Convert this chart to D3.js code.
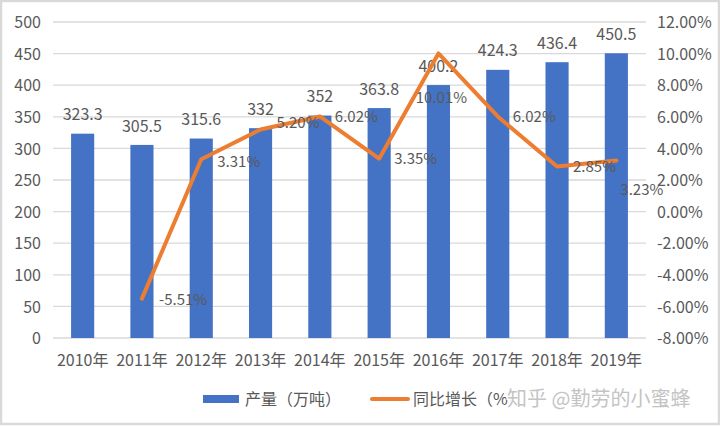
<!DOCTYPE html>
<html><head><meta charset="utf-8">
<script src="https://cdn.jsdelivr.net/npm/d3@7"></script>
<style>
html,body{margin:0;padding:0;background:#fff;}
svg text{font-family:"Noto Sans CJK SC","Noto Sans",sans-serif;}
</style></head>
<body>
<svg id="chart" width="720" height="426"></svg>
<script>
const categories = ["2010年","2011年","2012年","2013年","2014年","2015年","2016年","2017年","2018年","2019年"];
const output = [323.3,305.5,315.6,332,352,363.8,400.2,424.3,436.4,450.5];
const growth = [null,-5.51,3.31,5.20,6.02,3.35,10.01,6.02,2.85,3.23];
const leftTicks = [0,50,100,150,200,250,300,350,400,450,500];
const rightTicks = [-8,-6,-4,-2,0,2,4,6,8,10,12];
const seriesNames = ["产量（万吨）","同比增长（%）"];
const watermark = "知乎 @勤劳的小蜜蜂";

// layout: label placement per growth point (dx, dy, anchor)
const growthLabelLayout = [null,[17,1,"start"],[16,2,"start"],[16,-7,"start"],[15,0,"start"],[15,0,"start"],[3,44,"middle"],[15,0,"start"],[16,0,"start"],[4,29,"start"]];

const svg = d3.select("#chart");
const W=720,H=426;
const pLeft=53,pRight=646,pTop=22,pBottom=338;
const blue="#4472C4", orange="#ED7D31", txt="#595959", grid="#D9D9D9";

svg.append("rect").attr("x",1).attr("y",1).attr("width",W-2).attr("height",H-3)
  .attr("fill","#fff").attr("stroke","#D9D9D9").attr("stroke-width",2.5);

const x = d3.scaleBand().domain(categories).range([pLeft,pRight]).paddingInner(0.61).paddingOuter(0.305);
const yL = d3.scaleLinear().domain([0,500]).range([pBottom,pTop]);
const yR = d3.scaleLinear().domain([-8,12]).range([pBottom,pTop]);

// gridlines
svg.append("g").selectAll("line").data(leftTicks).join("line")
  .attr("x1",pLeft).attr("x2",pRight).attr("y1",d=>yL(d)).attr("y2",d=>yL(d))
  .attr("stroke",grid).attr("stroke-width",1.3);

// left axis
const axL = d3.axisLeft(yL).tickValues(leftTicks).tickSize(0).tickPadding(0);
const gL = svg.append("g").attr("transform",`translate(41,0)`).call(axL);
gL.select(".domain").remove();
gL.selectAll("text").attr("fill",txt).attr("font-size",16).attr("dy","0.35em");

// right axis
const axR = d3.axisRight(yR).tickValues(rightTicks).tickSize(0).tickPadding(0).tickFormat(d=>d.toFixed(2)+"%");
const gR = svg.append("g").attr("transform",`translate(657,0)`).call(axR);
gR.select(".domain").remove();
gR.selectAll("text").attr("fill",txt).attr("font-size",16).attr("dy","0.35em");

// x axis
const axX = d3.axisBottom(x).tickSize(0).tickPadding(0);
const gX = svg.append("g").attr("transform",`translate(0,${pBottom+22})`).call(axX);
gX.select(".domain").remove();
gX.selectAll("text").attr("fill",txt).attr("font-size",16).attr("dy","0.35em");
svg.selectAll("g").attr("font-family",null);

// bars
svg.append("g").selectAll("rect").data(output).join("rect")
  .attr("x",(d,i)=>x(categories[i])).attr("width",x.bandwidth())
  .attr("y",d=>yL(d)).attr("height",d=>yL(0)-yL(d)).attr("fill",blue);

// bar labels
svg.append("g").selectAll("text").data(output).join("text")
  .attr("x",(d,i)=>x(categories[i])+x.bandwidth()/2).attr("y",d=>yL(d)-19)
  .attr("dy","0.35em").attr("text-anchor","middle").attr("font-size",16).attr("fill",txt)
  .text(d=>String(d));

// line
const pts = growth.map((g,i)=>({g,i})).filter(d=>d.g!==null);
const line = d3.line().x(d=>x(categories[d.i])+x.bandwidth()/2).y(d=>yR(d.g));
svg.append("path").datum(pts).attr("d",line).attr("fill","none")
  .attr("stroke",orange).attr("stroke-width",4).attr("stroke-linejoin","round").attr("stroke-linecap","round");

// line labels
svg.append("g").selectAll("text").data(pts).join("text")
  .attr("x",d=>x(categories[d.i])+x.bandwidth()/2+growthLabelLayout[d.i][0])
  .attr("y",d=>yR(d.g)+growthLabelLayout[d.i][1])
  .attr("dy","0.35em").attr("text-anchor",d=>growthLabelLayout[d.i][2])
  .attr("font-size",15).attr("fill",txt)
  .text(d=>d.g.toFixed(2)+"%");

// legend
const lg = svg.append("g");
lg.append("rect").attr("x",203).attr("y",395).attr("width",36).attr("height",8).attr("fill",blue);
lg.append("text").attr("x",245).attr("y",399).attr("dy","0.35em").attr("font-size",16).attr("fill",txt).text(seriesNames[0]);
lg.append("line").attr("x1",372).attr("x2",408).attr("y1",399).attr("y2",399)
  .attr("stroke",orange).attr("stroke-width",4).attr("stroke-linecap","round");
lg.append("text").attr("x",413).attr("y",399).attr("dy","0.35em").attr("font-size",16).attr("fill",txt).text(seriesNames[1]);

// watermark (overlays the end of the legend, as in the source image)
svg.append("text").attr("x",507).attr("y",399).attr("dy","0.35em").attr("font-size",20)
  .attr("fill","#c4c4c4").attr("stroke","#fff").attr("stroke-width",3).attr("paint-order","stroke")
  .text(watermark);
</script>
</body></html>
